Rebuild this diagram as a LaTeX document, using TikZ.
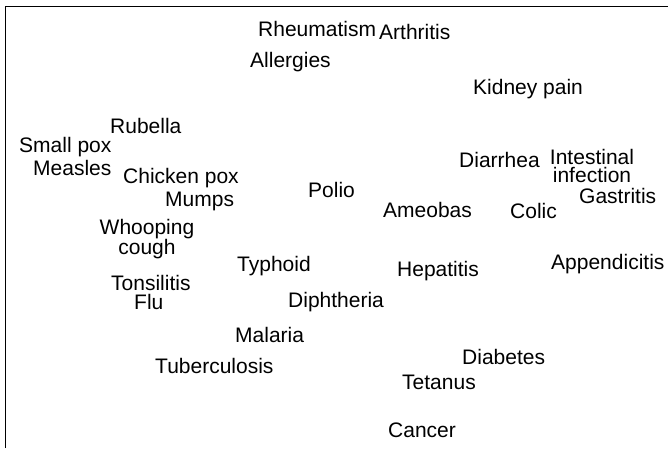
\documentclass[tikz,border=0pt]{standalone}
\usepackage{fontspec}
\setmainfont{Liberation Sans}
\begin{document}
\begin{tikzpicture}[x=1pt,y=-1pt,
  lbl/.style={inner sep=0pt,anchor=base west,font=\fontsize{21}{17.5}\selectfont},
  lbl2/.style={inner sep=0pt,anchor=center,align=center,font=\fontsize{21}{17.5}\selectfont}]
\useasboundingbox (0,0) rectangle (668,448);
\coordinate (bl) at (5.5,448);
\coordinate (tl) at (5.5,6.5);
\coordinate (tr) at (668,6.5);
\draw[line width=1.4pt] (bl) -- (tl) -- (tr);
\node[lbl] (rheu) at (258,36) {Rheumatism};
\node[lbl] (arth) at (379,39) {Arthritis};
\node[lbl] (alle) at (250,67) {Allergies};
\node[lbl] (kidn) at (473,94) {Kidney pain};
\node[lbl] (rube) at (110,133) {Rubella};
\node[lbl] (smal) at (19,152) {Small pox};
\node[lbl] (meas) at (33,175) {Measles};
\node[lbl] (chic) at (123,183) {Chicken pox};
\node[lbl] (mump) at (165,206) {Mumps};
\node[lbl] (poli) at (308,197) {Polio};
\node[lbl] (diar) at (459,167) {Diarrhea};
\node[lbl2] (inte) at (592,166) {Intestinal\\infection};
\node[lbl] (gast) at (579,203) {Gastritis};
\node[lbl] (ameo) at (383,217) {Ameobas};
\node[lbl] (coli) at (510,218) {Colic};
\node[lbl2] (whoo) at (147,239) {Whooping\\cough};
\node[lbl] (typh) at (237,271) {Typhoid};
\node[lbl] (hepa) at (397,276) {Hepatitis};
\node[lbl] (appe) at (551,269) {Appendicitis};
\node[lbl] (tons) at (111,290) {Tonsilitis};
\node[lbl] (flu) at (134,309) {Flu};
\node[lbl] (diph) at (288,307) {Diphtheria};
\node[lbl] (mala) at (235,342) {Malaria};
\node[lbl] (tube) at (155,373) {Tuberculosis};
\node[lbl] (diab) at (462,364) {Diabetes};
\node[lbl] (teta) at (402,389) {Tetanus};
\node[lbl] (canc) at (388,437) {Cancer};
\end{tikzpicture}
\end{document}
